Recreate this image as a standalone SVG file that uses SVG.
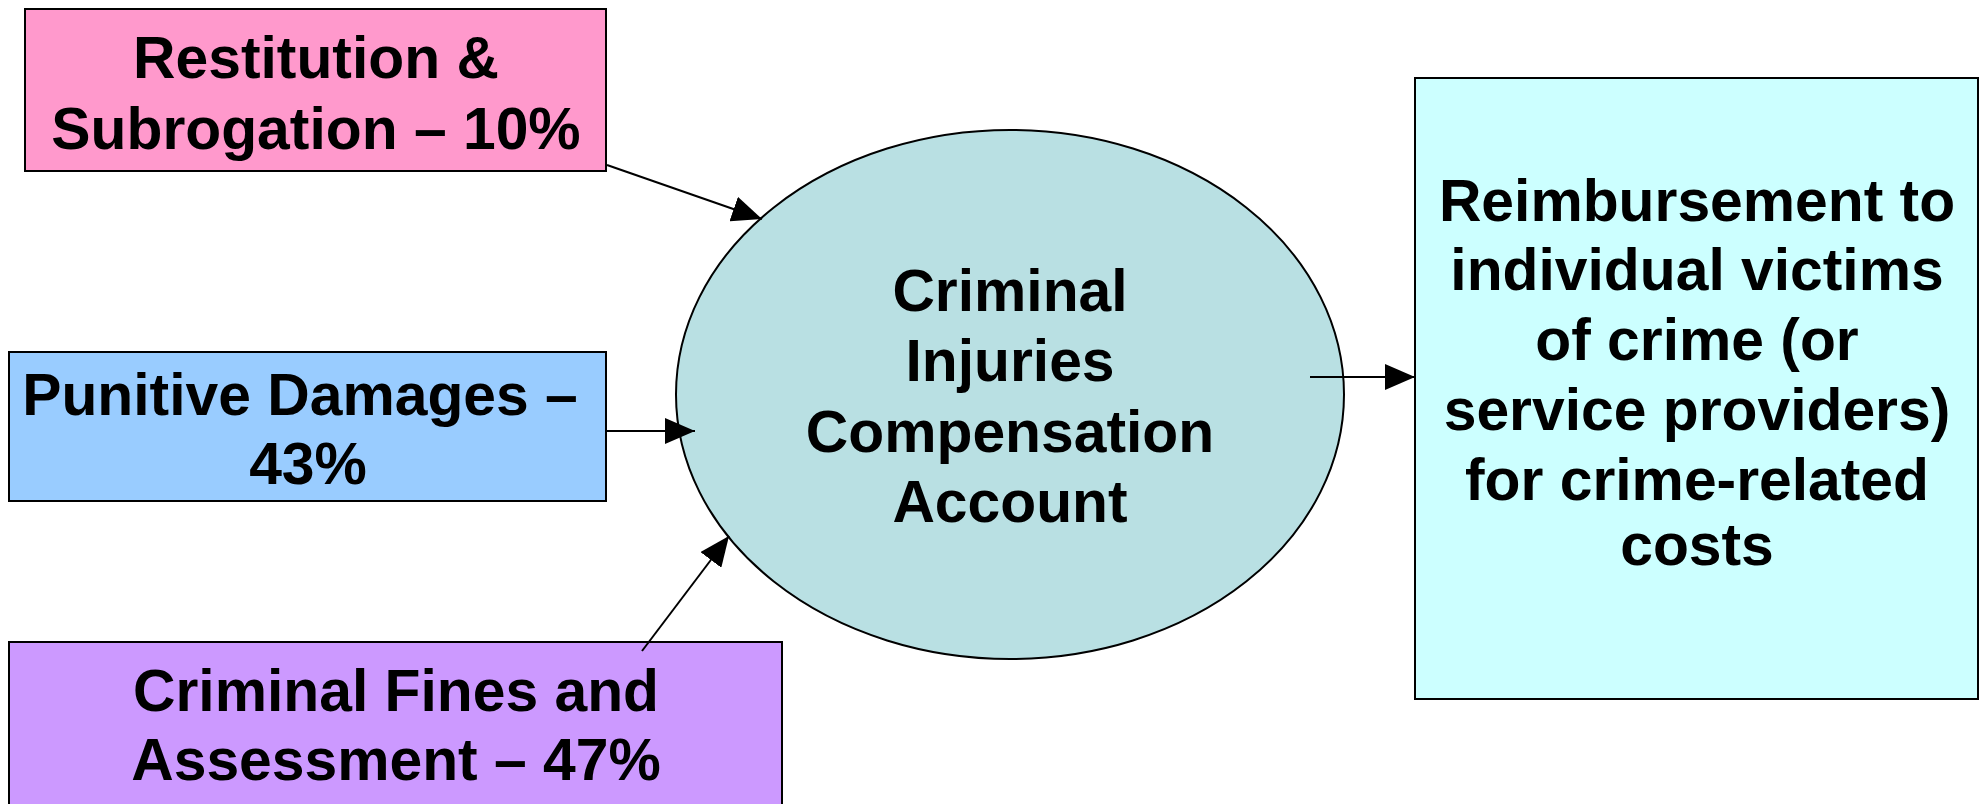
<svg xmlns="http://www.w3.org/2000/svg" width="1983" height="804" viewBox="0 0 1983 804">
<style>
.box{stroke:#000;stroke-width:2}
.t{font-family:"Liberation Sans",Arial,sans-serif;font-weight:bold;font-size:58.8px;text-anchor:middle;fill:#000}
.c{stroke:#000;stroke-width:2;fill:none;marker-end:url(#ah)}
</style>
<defs>
<marker id="ah" markerUnits="userSpaceOnUse" markerWidth="32" markerHeight="26" refX="30" refY="13" orient="auto">
<path d="M0,0 L30,13 L0,26 Z" fill="#000"/>
</marker>
</defs>
<rect width="1983" height="804" fill="#fff"/>
<g id="account">
<ellipse cx="1010" cy="394.5" rx="334" ry="264.5" fill="#B9E0E3" stroke="#000" stroke-width="2"/>
<text class="t" x="1010" y="311">Criminal</text>
<text class="t" x="1010" y="381">Injuries</text>
<text class="t" x="1010" y="452">Compensation</text>
<text class="t" x="1010" y="522">Account</text>
</g>
<g id="restitution">
<rect class="box" x="25" y="9" width="581" height="162" fill="#FF99CC"/>
<text class="t" x="316" y="78">Restitution &amp;</text>
<text class="t" x="316" y="149">Subrogation – 10%</text>
</g>
<g id="punitive">
<rect class="box" x="9" y="352" width="597" height="149" fill="#99CCFF"/>
<text class="t" x="300" y="415">Punitive Damages –</text>
<text class="t" x="308" y="484">43%</text>
</g>
<g id="fines">
<rect class="box" x="9" y="642" width="773" height="170" fill="#CC99FF"/>
<text class="t" x="396" y="711">Criminal Fines and</text>
<text class="t" x="396" y="780">Assessment – 47%</text>
</g>
<g id="reimbursement">
<rect class="box" x="1415" y="78" width="563" height="621" fill="#CCFFFF"/>
<text class="t" x="1697" y="221">Reimbursement to</text>
<text class="t" x="1697" y="290">individual victims</text>
<text class="t" x="1697" y="360">of crime (or</text>
<text class="t" x="1697" y="430">service providers)</text>
<text class="t" x="1697" y="500">for crime-related</text>
<text class="t" x="1697" y="565">costs</text>
</g>
<g id="connectors">
<line class="c" x1="607" y1="165" x2="762" y2="219"/>
<line class="c" x1="606" y1="431" x2="695" y2="431"/>
<line class="c" x1="642" y1="651" x2="729" y2="536"/>
<line class="c" x1="1310" y1="377" x2="1415" y2="377"/>
</g>
</svg>
